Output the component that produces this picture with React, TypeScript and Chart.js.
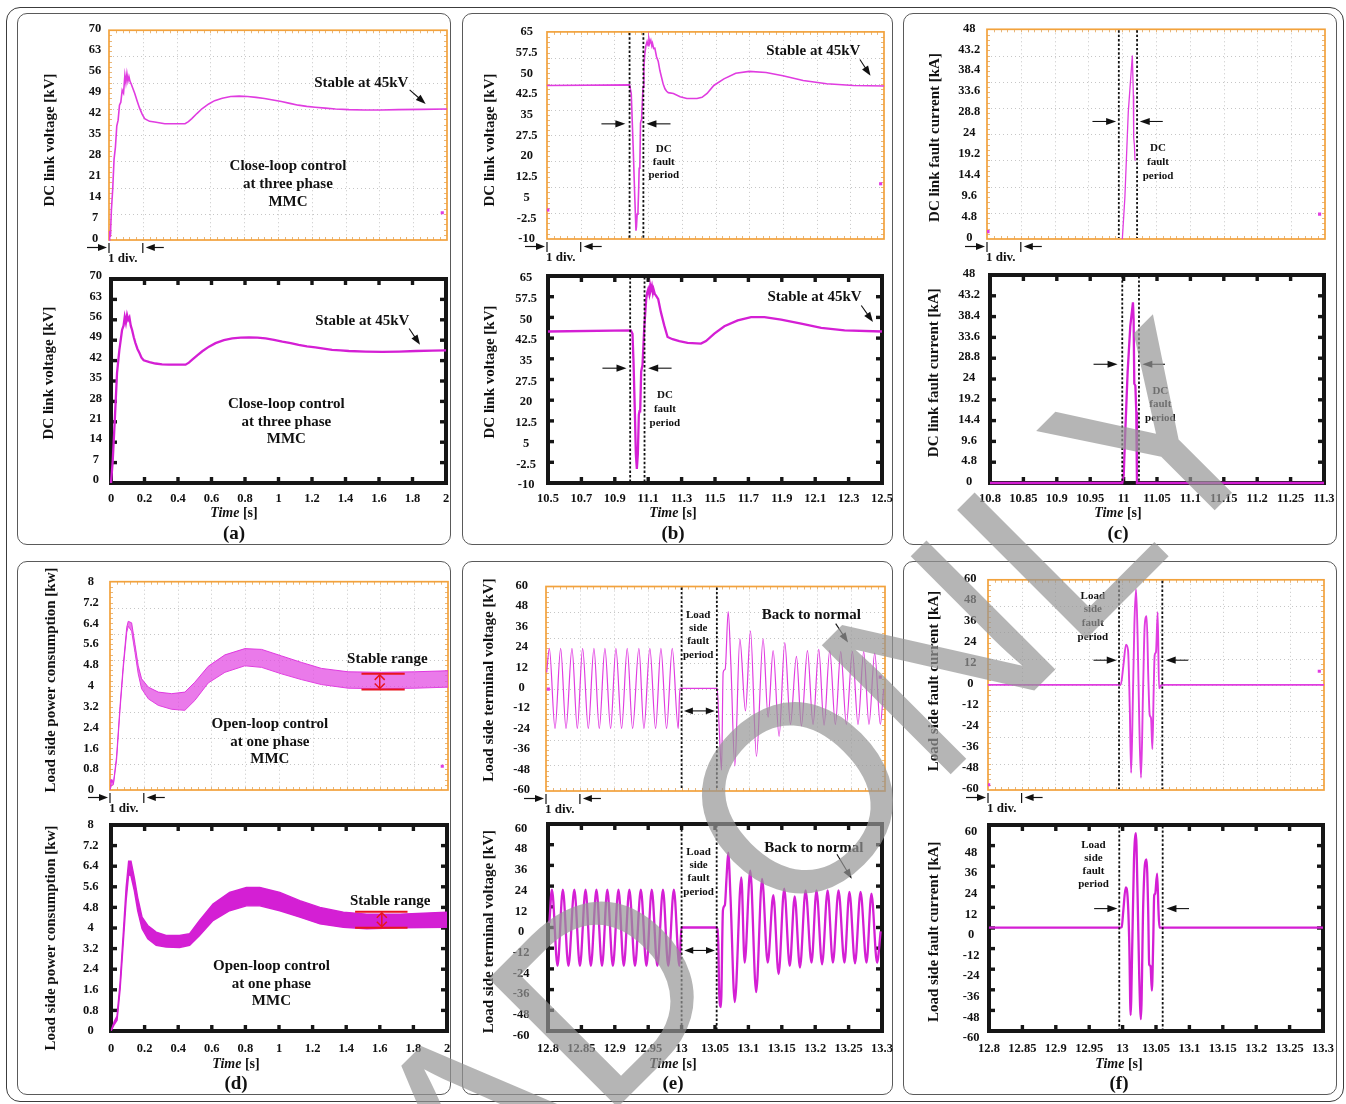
import React, { useEffect, useRef } from 'react';
import { Chart, registerables } from 'chart.js';

Chart.register(...registerables);

const SERIF = '"Liberation Serif", "Times New Roman", serif';
const SCOPE_C = '#e03ce0';
const SIM_C = '#d41fd4';
const ORANGE = '#f2a23c';
const RED = '#e8141e';

// ================= tick values =================
const aYTicks = [0, 7, 14, 21, 28, 35, 42, 49, 56, 63, 70];
const bYTicks = [-10, -2.5, 5, 12.5, 20, 27.5, 35, 42.5, 50, 57.5, 65];
const cYTicks = [0, 4.8, 9.6, 14.4, 19.2, 24, 28.8, 33.6, 38.4, 43.2, 48];
const dYTicks = [0, 0.8, 1.6, 2.4, 3.2, 4, 4.8, 5.6, 6.4, 7.2, 8];
const efYTicks = [-60, -48, -36, -24, -12, 0, 12, 24, 36, 48, 60];
const adXTicks = [0, 0.2, 0.4, 0.6, 0.8, 1, 1.2, 1.4, 1.6, 1.8, 2];
const bXTicks = [10.5, 10.7, 10.9, 11.1, 11.3, 11.5, 11.7, 11.9, 12.1, 12.3, 12.5];
const cXTicks = [10.8, 10.85, 10.9, 10.95, 11, 11.05, 11.1, 11.15, 11.2, 11.25, 11.3];
const efXTicks = [12.8, 12.85, 12.9, 12.95, 13, 13.05, 13.1, 13.15, 13.2, 13.25, 13.3];

// ================= (a) DC link voltage, start-up =================
const aTopTime = [0, 0.004, 0.008, 0.014, 0.022, 0.03, 0.038, 0.046, 0.054, 0.062, 0.07, 0.078, 0.086, 0.094, 0.1, 0.106, 0.112, 0.118, 0.124, 0.132, 0.142, 0.152, 0.166, 0.181, 0.196, 0.211, 0.24, 0.27, 0.33, 0.39, 0.45, 0.47, 0.49, 0.52, 0.55, 0.59, 0.625, 0.67, 0.72, 0.77, 0.82, 0.87, 0.92, 0.97, 1.02, 1.07, 1.12, 1.17, 1.22, 1.28, 1.34, 1.42, 1.51, 1.61, 1.71, 1.85, 2.0];
const aTopVolt = [0, 3, 1, 9.8, 17, 27, 31, 38, 40, 45, 46, 50, 49, 55, 52.5, 55.5, 53, 54.5, 53, 52, 50.5, 49, 46.5, 44, 42, 40.5, 39.6, 39.4, 38.8, 38.8, 38.8, 39.5, 40.5, 42.2, 43.8, 45.4, 46.5, 47.3, 47.9, 48, 47.9, 47.6, 47.2, 46.7, 46.2, 45.6, 45, 44.6, 44.3, 44, 43.7, 43.5, 43.4, 43.4, 43.5, 43.6, 43.7];
const aMarkTime = [0.004, 1.972];
const aMarkVal = [2.5, 9.1];
const aSimTime = [0, 0.01, 0.022, 0.036, 0.05, 0.066, 0.075, 0.082, 0.089, 0.096, 0.103, 0.11, 0.118, 0.126, 0.136, 0.146, 0.158, 0.17, 0.182, 0.195, 0.23, 0.265, 0.305, 0.345, 0.395, 0.445, 0.465, 0.485, 0.515, 0.545, 0.585, 0.624, 0.674, 0.724, 0.774, 0.824, 0.874, 0.923, 0.973, 1.023, 1.073, 1.12, 1.17, 1.22, 1.27, 1.32, 1.37, 1.42, 1.52, 1.62, 1.72, 1.82, 1.92, 2.0];
const aSimVolt = [0, 7.3, 20.9, 37.8, 45.7, 52.5, 54, 57, 55, 57.6, 56, 56.8, 54, 52.5, 50, 48, 46, 44.6, 43, 42.1, 41.5, 41, 40.7, 40.6, 40.6, 40.6, 41.3, 42.3, 43.8, 45.2, 46.8, 48, 49, 49.6, 49.9, 50, 49.9, 49.6, 49.1, 48.5, 48, 47.4, 46.9, 46.5, 46.1, 45.7, 45.5, 45.3, 45.1, 45.0, 45.1, 45.3, 45.4, 45.5];

// ================= (b) DC link voltage, DC fault =================
const bTopTime = [10.5, 10.99, 11.0, 11.011, 11.021, 11.028, 11.031, 11.035, 11.04, 11.044, 11.047, 11.051, 11.055, 11.059, 11.062, 11.066, 11.07, 11.075, 11.08, 11.087, 11.094, 11.1, 11.105, 11.11, 11.116, 11.122, 11.126, 11.133, 11.14, 11.15, 11.16, 11.17, 11.18, 11.19, 11.2, 11.21, 11.22, 11.25, 11.29, 11.33, 11.39, 11.42, 11.45, 11.49, 11.55, 11.62, 11.7, 11.8, 11.9, 12.02, 12.16, 12.32, 12.5];
const bTopVolt = [45.6, 45.8, 42.7, 23.9, 5, -7, -5.5, -1, 0.3, 8, 15.6, 16.5, 32, 33, 34.4, 40, 45, 52, 56.8, 60, 61.5, 60, 62.5, 61, 62, 60, 60.9, 59, 59.1, 56, 54.4, 51, 48.5, 46, 44.4, 43.5, 43, 42.7, 41.5, 40.9, 40.9, 41.3, 42.7, 45.6, 48, 50, 50.7, 50.3, 49.1, 47.4, 46.2, 45.6, 45.4];
const bMarkTime = [10.505, 12.48];
const bMarkVal = [0.5, 10];
const bSimTime = [10.5, 10.996, 11.006, 11.012, 11.02, 11.026, 11.032, 11.038, 11.044, 11.048, 11.052, 11.058, 11.066, 11.076, 11.088, 11.094, 11.1, 11.106, 11.112, 11.116, 11.122, 11.128, 11.132, 11.14, 11.146, 11.16, 11.176, 11.196, 11.216, 11.246, 11.286, 11.336, 11.416, 11.446, 11.496, 11.556, 11.636, 11.716, 11.796, 11.896, 12.016, 12.136, 12.276, 12.5];
const bSimVolt = [44.9, 45.3, 44.1, 34, 16, 0.5, -4.9, 0.5, 14.8, 16, 16, 30.4, 32.8, 45.9, 56.6, 59, 60.2, 58.5, 61.4, 60, 61.4, 59, 60.2, 58.4, 58, 56.6, 51.9, 47.1, 42.9, 42.1, 41.4, 40.8, 40.5, 41.4, 44.1, 46.8, 48.9, 50.1, 50.1, 49.2, 47.7, 46.2, 45.3, 44.9];

// ================= (c) DC link fault current =================
const cTopTime = [11.0002, 11.004, 11.009, 11.015, 11.0165, 11.017, 11.018, 11.019];
const cTopCur = [0, 9.6, 29.1, 42, 32.9, 23.1, 21.6, 17.9];
const cMarkTime = [10.8015, 11.292];
const cMarkVal = [1.7, 5.7];
const cSimTime = [10.8, 10.998, 11.0002, 11.0027, 11.006, 11.01, 11.014, 11.015, 11.016, 11.0176, 11.019, 11.02, 11.3];
const cSimCur = [0, 0, 1.9, 12.6, 25.5, 36.2, 41.7, 37.7, 22.9, 22.5, 16.4, 0, 0];

// ================= (d) load side power (ripple band: upper / lower envelope) =================
const dTopTime = [0, 0.01, 0.02, 0.039, 0.059, 0.079, 0.099, 0.108, 0.128, 0.148, 0.167, 0.187, 0.227, 0.286, 0.365, 0.443, 0.502, 0.581, 0.68, 0.798, 0.897, 1.015, 1.133, 1.251, 1.409, 1.606, 1.803, 2.0];
const dTopUpper = [0.09, 0.4, 0.25, 1.3, 3.2, 4.85, 6.25, 6.48, 6.42, 5.59, 4.77, 4.27, 3.95, 3.76, 3.7, 3.76, 4.14, 4.75, 5.19, 5.43, 5.4, 5.15, 4.9, 4.67, 4.54, 4.52, 4.54, 4.58];
const dTopLower = [0, 0.2, 0.2, 1.15, 3.05, 4.7, 6.05, 6.29, 6.1, 5.28, 4.46, 3.89, 3.5, 3.25, 3.1, 3.06, 3.44, 4.11, 4.52, 4.77, 4.71, 4.46, 4.24, 4.05, 3.91, 3.89, 3.91, 3.95];
const dMarkTime = [0.006, 1.966];
const dMarkVal = [0.34, 0.91];
const dSimTime = [0, 0.02, 0.036, 0.054, 0.074, 0.09, 0.105, 0.119, 0.139, 0.159, 0.185, 0.219, 0.269, 0.328, 0.408, 0.468, 0.527, 0.607, 0.706, 0.806, 0.886, 1.005, 1.124, 1.244, 1.383, 1.522, 1.721, 2.0];
const dSimUpper = [0, 0.38, 0.58, 1.86, 3.9, 5.57, 6.59, 6.59, 5.95, 5.18, 4.42, 4.1, 3.84, 3.71, 3.71, 3.78, 4.29, 4.93, 5.38, 5.57, 5.57, 5.38, 5.06, 4.8, 4.61, 4.54, 4.54, 4.61];
const dSimLower = [0, 0.26, 0.42, 1.6, 3.52, 5.06, 6.08, 6.02, 5.44, 4.67, 3.97, 3.58, 3.33, 3.26, 3.24, 3.33, 3.71, 4.29, 4.67, 4.86, 4.86, 4.67, 4.42, 4.16, 4.03, 3.97, 4.01, 4.03];

// ================= (e) load side terminal voltage (peaks / troughs) =================
const eTopTime = [12.801, 12.8049, 12.8133, 12.8216, 12.8295, 12.8383, 12.8462, 12.854, 12.8624, 12.8707, 12.8786, 12.8869, 12.8953, 12.9031, 12.9115, 12.9198, 12.9277, 12.937, 12.9444, 12.9532, 12.9616, 12.9695, 12.9778, 12.9862, 12.995, 12.9975, 13.0525, 13.0554, 13.0589, 13.0613, 13.0643, 13.0687, 13.0726, 13.0785, 13.0859, 13.0942, 13.1016, 13.1104, 13.1202, 13.1276, 13.135, 13.1438, 13.1522, 13.1605, 13.1694, 13.1767, 13.1856, 13.1939, 13.2023, 13.2101, 13.2185, 13.2268, 13.2347, 13.243, 13.2519, 13.2602, 13.2686, 13.2764, 13.2848, 13.2931, 13.298];
const eTopVolt = [9.6, 23.7, -23.3, 23.7, -23.3, 23.7, -23.3, 23.7, -23.3, 23.7, -23.3, 23.7, -23.3, 23.7, -23.3, 23.7, -23.3, 23.7, -23.3, 23.7, -23.3, 23.7, -23.3, 23.7, -23.3, 0.2, 0.2, -22.4, -47.8, 9.6, 11.5, 45.3, 15.2, -45.3, 29.3, -13, 34, -39.7, 29.3, -16.7, 22.4, -28, 27.1, -20.9, 19, -21.8, 22.4, -20.9, 23.1, -21.4, 22.4, -20.9, 21.8, -20.9, 21.8, -20.9, 21.8, -20.9, 20.9, -20.9, 0];
const eMarkTime = [12.8034, 13.293];
const eMarkVal = [-0.2, 6.8];
const eSimTime = [12.802, 12.8059, 12.8143, 12.8222, 12.8306, 12.8394, 12.8478, 12.8562, 12.8641, 12.8725, 12.8809, 12.8888, 12.8971, 12.9055, 12.9134, 12.9218, 12.9302, 12.939, 12.9474, 12.9553, 12.9637, 12.9721, 12.98, 12.9884, 12.9967, 12.9997, 13.0525, 13.0549, 13.0564, 13.0589, 13.0619, 13.0648, 13.0673, 13.0698, 13.0732, 13.0796, 13.0894, 13.0944, 13.1028, 13.1116, 13.1205, 13.1289, 13.1373, 13.1452, 13.1536, 13.1619, 13.1693, 13.1772, 13.1856, 13.1945, 13.2019, 13.2103, 13.2186, 13.2265, 13.2349, 13.2438, 13.2512, 13.2596, 13.2679, 13.2768, 13.2842, 13.2926, 13.298];
const eSimVolt = [2.5, 21.9, -22.3, 21.9, -22.3, 21.9, -22.3, 21.9, -22.3, 21.9, -22.3, 21.9, -22.3, 21.9, -22.3, 21.9, -22.3, 21.9, -22.3, 21.9, -22.3, 21.9, -22.3, 21.9, -22.3, 0, 0, -9, -39.4, -46.1, 10.1, 13, 29.1, 43.4, 17.7, -43.2, 29.1, -20.4, 33, -37.5, 28.2, -20.4, 18.7, -27, 22.5, -22.3, 18.1, -23.2, 21.5, -20.4, 21.5, -21.3, 21.5, -20.4, 21.5, -20.4, 20.6, -20.8, 20.6, -20.4, 19.6, -20.4, -2.3];

// ================= (f) load side fault current =================
const fTopTime = [12.8, 12.9975, 13.0015, 13.0054, 13.0084, 13.011, 13.013, 13.0153, 13.0178, 13.0203, 13.0228, 13.0252, 13.0277, 13.0307, 13.0332, 13.0361, 13.0386, 13.0406, 13.0426, 13.0446, 13.0465, 13.048, 13.05, 13.0525, 13.0545, 13.0584, 13.3];
const fTopCur = [0, 0, 11.2, 23, 19.7, -13.3, -50.2, -13.3, 33.9, 54.7, 24.5, -22.8, -53, -3.9, 33.9, 39.2, 3.7, -17.1, -19, -36.6, -3.9, 16.9, 18.8, 41.5, -2, 0, 0];
const fMarkTime = [12.801, 13.293];
const fMarkVal = [-57, 7.8];
const fSimTime = [12.8, 12.9961, 12.9986, 13.0011, 13.0046, 13.0075, 13.01, 13.012, 13.0145, 13.017, 13.0199, 13.0224, 13.0249, 13.0274, 13.0309, 13.0334, 13.0358, 13.0383, 13.0398, 13.0418, 13.0438, 13.0458, 13.0473, 13.0487, 13.0517, 13.0537, 13.0552, 13.3];
const fSimCur = [0.2, 0.2, 0.5, 10.3, 23.7, 18, -8.8, -50.8, -8.8, 39, 55.2, 19.9, -27.9, -53.1, 14.1, 37, 39.9, 10.3, -21.2, -22.2, -36.5, -8.8, 18.9, 19.9, 31.7, 10.3, 0.2, 0.2];

// ================= dataset helpers =================
const pts = (t: number[], v: number[]) => t.map((x, i) => ({ x, y: v[i] }));
const scopeLine = (t: number[], v: number[], smooth = false, w = 1.6) => ({
  data: pts(t, v), borderColor: SCOPE_C, borderWidth: w, pointRadius: 0, fill: false, tension: 0,
  cubicInterpolationMode: smooth ? 'monotone' : 'default', clip: 2,
});
const simLine = (t: number[], v: number[], smooth = false) => ({
  data: pts(t, v), borderColor: SIM_C, borderWidth: 2.3, pointRadius: 0, fill: false, tension: 0,
  cubicInterpolationMode: smooth ? 'monotone' : 'default', clip: 4,
});
const scopeMark = (t: number[], v: number[]) => ({
  data: pts(t, v), showLine: false, pointRadius: 2.2, pointStyle: 'rect', backgroundColor: SCOPE_C, borderWidth: 0,
});
const band = (t: number[], up: number[], lo: number[], color: string, fillColor: string, w: number) => [
  { data: pts(t, up), borderColor: color, borderWidth: w, pointRadius: 0, fill: '+1', backgroundColor: fillColor, tension: 0 },
  { data: pts(t, lo), borderColor: color, borderWidth: w, pointRadius: 0, fill: false, tension: 0 },
];

// ================= layout =================
const COLA = { l: 17, r: 451 }, COLB = { l: 462, r: 893 }, COLC = { l: 903, r: 1337 };
const ROW1 = { t: 13, b: 545 }, ROW2 = { t: 561, b: 1095 };
const geomTop = (col: any, row: any, area: any) => ({ cx: col.l + 2, cy: row.t + 2, cw: col.r - col.l - 4, ch: area.B + 30 - (row.t + 2), area });
const geomSim = (col: any, row: any, topB: number, area: any) => ({ cx: col.l + 2, cy: topB + 4, cw: area.R + 24 - (col.l + 2), ch: row.b + 4 - (topB + 4), area });

const dcText = (x: number, y: number, lh: number) => ({ k: 'tx', x, y, lines: ['DC', 'fault', 'period'], size: 11, lh });
const lsText = (x: number, y: number, lh: number) => ({ k: 'tx', x, y, lines: ['Load', 'side', 'fault', 'period'], size: 11, lh });

const SPECS: any[] = [
  // ---------- (a) ----------
  {
    kind: 'scope', ...geomTop(COLA, ROW1, { L: 109, T: 27, R: 447, B: 240 }),
    xMin: 0, xMax: 2, yMin: 0, yMax: 70, xTicks: adXTicks, yTicks: aYTicks, yPad: 7.75, yOff: -1,
    yTitle: { text: 'DC link voltage [kV]', x: 50, y: 140 },
    datasets: [scopeLine(aTopTime, aTopVolt), scopeMark(aMarkTime, aMarkVal)],
    ann: [
      { k: 'tx', x: 1.493, y: 52.5, lines: ['Stable at 45kV'], size: 15 },
      { k: 'ar', x1: 1.779, y1: 50.1, x2: 1.874, y2: 45.4 },
      { k: 'tx', x: 1.059, y: 24.6, lines: ['Close-loop control', 'at three phase', 'MMC'], size: 15, lh: 17.8 },
    ],
  },
  {
    kind: 'sim', ...geomSim(COLA, ROW1, 240, { L: 111, T: 279, R: 446, B: 483 }),
    xMin: 0, xMax: 2, yMin: 0, yMax: 70, xTicks: adXTicks, yTicks: aYTicks, yPad: 9, yOff: -3, xPad: 8,
    yTitle: { text: 'DC link voltage [kV]', x: 49.5, y: 373 },
    footer: { x: 234, timeY: 513.7, labelY: 533.7, label: '(a)' },
    datasets: [simLine(aSimTime, aSimVolt)],
    ann: [
      { k: 'tx', x: 1.5, y: 55.7, lines: ['Stable at 45kV'], size: 15 },
      { k: 'ar', x1: 1.78, y1: 53, x2: 1.845, y2: 47.4 },
      { k: 'tx', x: 1.047, y: 27.1, lines: ['Close-loop control', 'at three phase', 'MMC'], size: 15, lh: 17.8 },
    ],
  },
  // ---------- (b) ----------
  {
    kind: 'scope', ...geomTop(COLB, ROW1, { L: 547, T: 27, R: 884, B: 239 }),
    xMin: 10.5, xMax: 12.5, yMin: -10, yMax: 65, xTicks: bXTicks, yTicks: bYTicks, yPad: 9.4, yOff: 0,
    yTitle: { text: 'DC link voltage [kV]', x: 489.7, y: 140 },
    datasets: [scopeLine(bTopTime, bTopVolt), scopeMark(bMarkTime, bMarkVal)],
    ann: [
      { k: 'vd', x: 10.99 }, { k: 'vd', x: 11.072 },
      { k: 'ar', x1: 10.823, y1: 31.7, x2: 10.965, y2: 31.7 },
      { k: 'ar', x1: 11.233, y1: 31.7, x2: 11.09, y2: 31.7 },
      dcText(11.193, 22.7, 13.3),
      { k: 'tx', x: 12.08, y: 57.9, lines: ['Stable at 45kV'], size: 15 },
      { k: 'ar', x1: 12.357, y1: 55, x2: 12.42, y2: 49.1 },
    ],
  },
  {
    kind: 'sim', ...geomSim(COLB, ROW1, 239, { L: 548, T: 276, R: 882, B: 483 }),
    xMin: 10.5, xMax: 12.5, yMin: -10, yMax: 65, xTicks: bXTicks, yTicks: bYTicks, yPad: 11, yOff: 2, xPad: 8,
    yTitle: { text: 'DC link voltage [kV]', x: 489.7, y: 372 },
    footer: { x: 673, timeY: 513.7, labelY: 533.7, label: '(b)' },
    datasets: [simLine(bSimTime, bSimVolt)],
    ann: [
      { k: 'vd', x: 10.992 }, { k: 'vd', x: 11.078 },
      { k: 'ar', x1: 10.826, y1: 31.6, x2: 10.97, y2: 31.6 },
      { k: 'ar', x1: 11.24, y1: 31.6, x2: 11.1, y2: 31.6 },
      dcText(11.2, 22, 14),
      { k: 'tx', x: 12.096, y: 57.2, lines: ['Stable at 45kV'], size: 15 },
      { k: 'ar', x1: 12.376, y1: 54.3, x2: 12.446, y2: 48.3 },
    ],
  },
  // ---------- (c) ----------
  {
    kind: 'scope', ...geomTop(COLC, ROW1, { L: 987, T: 26, R: 1325, B: 239 }),
    xMin: 10.8, xMax: 11.3, yMin: 0, yMax: 48, xTicks: cXTicks, yTicks: cYTicks, yPad: 6.8, yOff: -1,
    yTitle: { text: 'DC link fault current [kA]', x: 935.3, y: 137.5 },
    datasets: [scopeLine(cTopTime, cTopCur, false, 1.3), scopeMark(cMarkTime, cMarkVal)],
    ann: [
      { k: 'vd', x: 10.995 }, { k: 'vd', x: 11.022 },
      { k: 'ar', x1: 10.956, y1: 26.9, x2: 10.991, y2: 26.9 },
      { k: 'ar', x1: 11.06, y1: 26.9, x2: 11.026, y2: 26.9 },
      dcText(11.053, 20.9, 14),
    ],
  },
  {
    kind: 'sim', ...geomSim(COLC, ROW1, 239, { L: 990, T: 275, R: 1324, B: 483 }),
    xMin: 10.8, xMax: 11.3, yMin: 0, yMax: 48, xTicks: cXTicks, yTicks: cYTicks, yPad: 10, yOff: -1, xPad: 8,
    yTitle: { text: 'DC link fault current [kA]', x: 934.5, y: 372.7 },
    footer: { x: 1118, timeY: 513.7, labelY: 533.7, label: '(c)' },
    datasets: [simLine(cSimTime, cSimCur)],
    ann: [
      { k: 'vd', x: 10.998 }, { k: 'vd', x: 11.023 },
      { k: 'ar', x1: 10.955, y1: 27.4, x2: 10.991, y2: 27.4 },
      { k: 'ar', x1: 11.062, y1: 27.4, x2: 11.028, y2: 27.4 },
      dcText(11.055, 21.3, 13.7),
    ],
  },
  // ---------- (d) ----------
  {
    kind: 'scope', ...geomTop(COLA, ROW2, { L: 110, T: 580, R: 448, B: 790 }),
    xMin: 0, xMax: 2, yMin: 0, yMax: 8, xTicks: adXTicks, yTicks: dYTicks, yPad: 11.2, yOff: 0,
    yTitle: { text: 'Load side power consumption [kw]', x: 50.7, y: 680 },
    datasets: [...band(dTopTime, dTopUpper, dTopLower, 'rgba(222,50,222,0.95)', 'rgba(226,70,226,0.72)', 1), scopeMark(dMarkTime, dMarkVal)],
    ann: [
      { k: 'tx', x: 1.641, y: 5.02, lines: ['Stable range'], size: 15 },
      { k: 'rr', x1: 1.488, x2: 1.744, y1: 4.46, y2: 3.86, xm: 1.596 },
      { k: 'tx', x: 0.946, y: 2.53, lines: ['Open-loop control', 'at one phase', 'MMC'], size: 15, lh: 17.7 },
    ],
  },
  {
    kind: 'sim', ...geomSim(COLA, ROW2, 790, { L: 111, T: 825, R: 447, B: 1031 }),
    xMin: 0, xMax: 2, yMin: 0, yMax: 8, xTicks: adXTicks, yTicks: dYTicks, yPad: 12.5, yOff: 0, xPad: 10.5,
    yTitle: { text: 'Load side power consumption [kw]', x: 50.7, y: 938 },
    footer: { x: 236, timeY: 1064, labelY: 1084, label: '(d)' },
    datasets: band(dSimTime, dSimUpper, dSimLower, SIM_C, SIM_C, 1.4),
    ann: [
      { k: 'tx', x: 1.662, y: 5.06, lines: ['Stable range'], size: 15 },
      { k: 'rr', x1: 1.453, x2: 1.765, y1: 4.63, y2: 4.01, xm: 1.612 },
      { k: 'tx', x: 0.955, y: 2.52, lines: ['Open-loop control', 'at one phase', 'MMC'], size: 15, lh: 17.7 },
    ],
  },
  // ---------- (e) ----------
  {
    kind: 'scope', ...geomTop(COLB, ROW2, { L: 546, T: 579, R: 885, B: 791 }),
    xMin: 12.8, xMax: 13.3, yMin: -60, yMax: 60, xTicks: efXTicks, yTicks: efYTicks, yPad: 16, yOff: -1,
    yTitle: { text: 'Load side terminal voltage [kV]', x: 489.3, y: 680 },
    datasets: [scopeLine(eTopTime, eTopVolt, true, 1.2), scopeMark(eMarkTime, eMarkVal)],
    ann: [
      { k: 'vd', x: 13.0 }, { k: 'vd', x: 13.052 },
      { k: 'dbl', x1: 13.0034, x2: 13.049, y: -13 },
      lsText(13.0245, 43.4, 13.3),
      { k: 'tx', x: 13.1915, y: 43.4, lines: ['Back to normal'], size: 15 },
      { k: 'ar', x1: 13.2273, y1: 38.2, x2: 13.2455, y2: 27.1 },
    ],
  },
  {
    kind: 'sim', ...geomSim(COLB, ROW2, 791, { L: 548, T: 824, R: 882, B: 1031 }),
    xMin: 12.8, xMax: 13.3, yMin: -60, yMax: 60, xTicks: efXTicks, yTicks: efYTicks, yPad: 18.6, yOff: 4.5, xPad: 10.5,
    yTitle: { text: 'Load side terminal voltage [kV]', x: 489.3, y: 931.7 },
    footer: { x: 673, timeY: 1064, labelY: 1084, label: '(e)' },
    datasets: [simLine(eSimTime, eSimVolt, true)],
    ann: [
      { k: 'vd', x: 13.0 }, { k: 'vd', x: 13.0525 },
      { k: 'dbl', x1: 13.004, x2: 13.05, y: -13.3 },
      lsText(13.0254, 43.8, 13.3),
      { k: 'tx', x: 13.198, y: 46.3, lines: ['Back to normal'], size: 15 },
      { k: 'ar', x1: 13.2325, y1: 42.5, x2: 13.2547, y2: 28.2 },
    ],
  },
  // ---------- (f) ----------
  {
    kind: 'scope', ...geomTop(COLC, ROW2, { L: 988, T: 579, R: 1324, B: 790 }),
    xMin: 12.8, xMax: 13.3, yMin: -60, yMax: 60, xTicks: efXTicks, yTicks: efYTicks, yPad: 9.3, yOff: -1,
    yTitle: { text: 'Load side fault current [kA]', x: 933.7, y: 681 },
    datasets: [scopeLine(fTopTime, fTopCur, true, 1.9), scopeMark(fMarkTime, fMarkVal)],
    ann: [
      { k: 'vd', x: 12.995 }, { k: 'vd', x: 13.0594 },
      { k: 'ar', x1: 12.957, y1: 14.1, x2: 12.9916, y2: 14.1 },
      { k: 'ar', x1: 13.098, y1: 14.1, x2: 13.0644, y2: 14.1 },
      lsText(12.956, 50.9, 13.8),
    ],
  },
  {
    kind: 'sim', ...geomSim(COLC, ROW2, 790, { L: 989, T: 825, R: 1323, B: 1031 }),
    xMin: 12.8, xMax: 13.3, yMin: -60, yMax: 60, xTicks: efXTicks, yTicks: efYTicks, yPad: 9.6, yOff: 7, xPad: 10.5,
    yTitle: { text: 'Load side fault current [kA]', x: 934, y: 931.7 },
    footer: { x: 1119, timeY: 1064, labelY: 1084, label: '(f)' },
    datasets: [simLine(fSimTime, fSimCur, true)],
    ann: [
      { k: 'vd', x: 12.995 }, { k: 'vd', x: 13.06 },
      { k: 'ar', x1: 12.9574, y1: 11.3, x2: 12.9922, y2: 11.3 },
      { k: 'ar', x1: 13.0994, y1: 11.3, x2: 13.0656, y2: 11.3 },
      lsText(12.9564, 48.5, 13.3),
    ],
  },
];

// ================= drawing helpers =================
const fontOf = (size: number, italic = false) => `${italic ? 'italic ' : ''}bold ${size}px ${SERIF}`;

function head(ctx: CanvasRenderingContext2D, x1: number, y1: number, x2: number, y2: number, len = 9, half = 3.5) {
  const a = Math.atan2(y2 - y1, x2 - x1);
  const c = Math.cos(a), s = Math.sin(a);
  ctx.beginPath();
  ctx.moveTo(x2, y2);
  ctx.lineTo(x2 - len * c + half * s, y2 - len * s - half * c);
  ctx.lineTo(x2 - len * c - half * s, y2 - len * s + half * c);
  ctx.closePath();
  ctx.fill();
}

function seg(ctx: CanvasRenderingContext2D, x1: number, y1: number, x2: number, y2: number) {
  ctx.beginPath(); ctx.moveTo(x1, y1); ctx.lineTo(x2, y2); ctx.stroke();
}

function drawAnn(chart: any, a: any) {
  const ctx: CanvasRenderingContext2D = chart.ctx;
  const X = (v: number) => chart.scales.x.getPixelForValue(v);
  const Y = (v: number) => chart.scales.y.getPixelForValue(v);
  const { top, bottom } = chart.chartArea;
  ctx.save();
  ctx.strokeStyle = '#111'; ctx.fillStyle = '#111';
  if (a.k === 'vd') {
    ctx.lineWidth = 1.8; ctx.setLineDash([2.4, 2]);
    const x = X(a.x);
    seg(ctx, x, top + 1, x, bottom - 1);
  } else if (a.k === 'ar') {
    ctx.lineWidth = 1.1;
    const x1 = X(a.x1), y1 = Y(a.y1), x2 = X(a.x2), y2 = Y(a.y2);
    const ang = Math.atan2(y2 - y1, x2 - x1);
    seg(ctx, x1, y1, x2 - 6 * Math.cos(ang), y2 - 6 * Math.sin(ang));
    head(ctx, x1, y1, x2, y2, 10, 3.6);
  } else if (a.k === 'dbl') {
    ctx.lineWidth = 1.1;
    const x1 = X(a.x1), x2 = X(a.x2), y = Y(a.y);
    seg(ctx, x1 + 5, y, x2 - 5, y);
    head(ctx, x2, y, x1, y, 9, 3.4);
    head(ctx, x1, y, x2, y, 9, 3.4);
  } else if (a.k === 'tx') {
    ctx.font = fontOf(a.size); ctx.textAlign = 'center'; ctx.textBaseline = 'middle';
    const x = X(a.x), y = Y(a.y);
    a.lines.forEach((t: string, i: number) => ctx.fillText(t, x, y + i * (a.lh || 0)));
  } else if (a.k === 'rr') {
    ctx.strokeStyle = RED; ctx.lineWidth = 2;
    const x1 = X(a.x1), x2 = X(a.x2), y1 = Y(a.y1), y2 = Y(a.y2), xm = X(a.xm);
    seg(ctx, x1, y1, x2, y1);
    seg(ctx, x1, y2, x2, y2);
    ctx.lineWidth = 1.5;
    seg(ctx, xm, y1 + 1, xm, y2 - 1);
    ctx.beginPath();
    ctx.moveTo(xm - 5, y1 + 6); ctx.lineTo(xm, y1 + 1); ctx.lineTo(xm + 5, y1 + 6);
    ctx.moveTo(xm - 5, y2 - 6); ctx.lineTo(xm, y2 - 1); ctx.lineTo(xm + 5, y2 - 6);
    ctx.stroke();
  }
  ctx.restore();
}

function makeDeco(s: any) {
  return {
    id: 'deco',
    beforeDatasetsDraw(chart: any) {
      const ctx: CanvasRenderingContext2D = chart.ctx;
      const { left, top, right, bottom } = chart.chartArea;
      const w = right - left, h = bottom - top;
      ctx.save();
      if (s.kind === 'scope') {
        ctx.strokeStyle = '#c6c6c6'; ctx.lineWidth = 1; ctx.setLineDash([1, 3]);
        ctx.beginPath();
        for (let i = 1; i < 10; i++) { const x = Math.round(left + (w * i) / 10) + 0.5; ctx.moveTo(x, top); ctx.lineTo(x, bottom); }
        for (let i = 1; i < 8; i++) { const y = Math.round(top + (h * i) / 8) + 0.5; ctx.moveTo(left, y); ctx.lineTo(right, y); }
        ctx.stroke();
        ctx.setLineDash([]);
        ctx.strokeStyle = '#e9b77a'; ctx.lineWidth = 1;
        ctx.beginPath();
        for (let i = 1; i < 50; i++) {
          const x = Math.round(left + (w * i) / 50) + 0.5;
          ctx.moveTo(x, bottom); ctx.lineTo(x, bottom - 3); ctx.moveTo(x, top); ctx.lineTo(x, top + 3);
        }
        for (let i = 1; i < 40; i++) {
          const y = Math.round(top + (h * i) / 40) + 0.5;
          ctx.moveTo(left, y); ctx.lineTo(left + 3, y); ctx.moveTo(right, y); ctx.lineTo(right - 3, y);
        }
        ctx.stroke();
        ctx.strokeStyle = ORANGE; ctx.lineWidth = 1.7;
        ctx.strokeRect(left, top, w, h);
      } else {
        ctx.strokeStyle = '#161616'; ctx.lineWidth = 4;
        ctx.strokeRect(left, top, w, h);
        ctx.fillStyle = '#161616';
        const xs = chart.scales.x, ys = chart.scales.y;
        xs.ticks.forEach((t: any) => {
          const x = xs.getPixelForValue(t.value);
          if (x < left + 5 || x > right - 5) return;
          ctx.fillRect(x - 1.7, top + 2, 3.4, 4);
          ctx.fillRect(x - 1.7, bottom - 6, 3.4, 4);
        });
        ys.ticks.forEach((t: any) => {
          const y = ys.getPixelForValue(t.value);
          if (y < top + 5 || y > bottom - 5) return;
          ctx.fillRect(left + 2, y - 1.7, 4, 3.4);
          ctx.fillRect(right - 6, y - 1.7, 4, 3.4);
        });
      }
      ctx.restore();
    },
    afterDatasetsDraw(chart: any) {
      s.ann.forEach((a: any) => drawAnn(chart, a));
    },
    afterDraw(chart: any) {
      const ctx: CanvasRenderingContext2D = chart.ctx;
      const { left, bottom, right } = chart.chartArea;
      ctx.save();
      ctx.fillStyle = '#111'; ctx.strokeStyle = '#111';
      ctx.save();
      ctx.translate(s.yTitle.x - s.cx, s.yTitle.y - s.cy);
      ctx.rotate(-Math.PI / 2);
      ctx.font = fontOf(15); ctx.textAlign = 'center'; ctx.textBaseline = 'middle';
      ctx.fillText(s.yTitle.text, 0, 0);
      ctx.restore();
      if (s.kind === 'scope') {
        const d = (right - left) / 10;
        const ya = bottom + 7.5;
        ctx.lineWidth = 1.2;
        seg(ctx, left, bottom + 3, left, bottom + 13);
        seg(ctx, left + d, bottom + 3, left + d, bottom + 13);
        seg(ctx, left - 22, ya, left - 6, ya);
        head(ctx, left - 22, ya, left - 2, ya, 9, 3.4);
        seg(ctx, left + d + 21, ya, left + d + 7, ya);
        head(ctx, left + d + 21, ya, left + d + 3, ya, 9, 3.4);
        ctx.font = fontOf(13); ctx.textAlign = 'left'; ctx.textBaseline = 'middle';
        ctx.fillText('1 div.', left - 1, bottom + 18.5);
      }
      if (s.footer) {
        const fx = s.footer.x - s.cx;
        const ty = s.footer.timeY - s.cy;
        ctx.textBaseline = 'middle'; ctx.textAlign = 'left';
        ctx.font = fontOf(14, true); const w1 = ctx.measureText('Time').width;
        ctx.font = fontOf(14); const w2 = ctx.measureText(' [s]').width;
        const x0 = fx - (w1 + w2) / 2;
        ctx.font = fontOf(14, true); ctx.fillText('Time', x0, ty);
        ctx.font = fontOf(14); ctx.fillText(' [s]', x0 + w1, ty);
        ctx.font = fontOf(19); ctx.textAlign = 'center';
        ctx.fillText(s.footer.label, fx, s.footer.labelY - s.cy);
      }
      ctx.restore();
    },
  };
}

function buildConfig(s: any) {
  const Wy = 50;
  const Hx = s.kind === 'sim' ? 22 : 0;
  const L = s.area.L - s.cx, T = s.area.T - s.cy, R = s.area.R - s.cx, B = s.area.B - s.cy;
  const tickFont = { family: SERIF, size: 12.5, weight: 'bold' as const };
  return {
    type: 'line' as const,
    data: { datasets: s.datasets },
    options: {
      animation: false as const,
      responsive: false,
      events: [],
      layout: { autoPadding: false, padding: { left: L - Wy, top: T, right: s.cw - R, bottom: s.ch - B - Hx } },
      plugins: { legend: { display: false }, tooltip: { enabled: false }, title: { display: false } },
      scales: {
        x: {
          type: 'linear' as const, min: s.xMin, max: s.xMax, display: s.kind === 'sim',
          afterBuildTicks: (ax: any) => { ax.ticks = s.xTicks.map((v: number) => ({ value: v })); },
          afterFit: (ax: any) => { ax.height = Hx; },
          grid: { display: false, drawTicks: false },
          border: { display: false },
          ticks: {
            autoSkip: false, maxRotation: 0, minRotation: 0, padding: s.xPad ?? 8, color: '#111', font: tickFont,
            callback: (_v: any, i: number) => String(s.xTicks[i]),
          },
        },
        y: {
          type: 'linear' as const, min: s.yMin, max: s.yMax,
          afterBuildTicks: (ax: any) => { ax.ticks = s.yTicks.map((v: number) => ({ value: v })); },
          afterFit: (ax: any) => { ax.width = Wy; },
          grid: { display: false, drawTicks: false },
          border: { display: false },
          ticks: {
            autoSkip: false, crossAlign: 'center' as const, padding: s.yPad, labelOffset: s.yOff || 0, color: '#111', font: tickFont,
            callback: (_v: any, i: number) => String(s.yTicks[i]),
          },
        },
      },
    },
    plugins: [makeDeco(s)],
  };
}

function ChartCanvas({ spec }: { spec: any }) {
  const ref = useRef<HTMLCanvasElement>(null);
  useEffect(() => {
    if (!ref.current) return;
    const chart = new Chart(ref.current, buildConfig(spec) as any);
    return () => chart.destroy();
  }, [spec]);
  return (
    <canvas
      ref={ref}
      width={spec.cw}
      height={spec.ch}
      style={{ position: 'absolute', left: spec.cx, top: spec.cy, width: spec.cw, height: spec.ch }}
    />
  );
}

// watermark overlay
const WM = { text: 'READ ONLY', prefix: 'READ ', cx: 795, cy: 795, angle: -45, size: 265 };

function Watermark() {
  const ref = useRef<HTMLCanvasElement>(null);
  useEffect(() => {
    const c = ref.current;
    if (!c) return;
    const ctx = c.getContext('2d')!;
    ctx.clearRect(0, 0, c.width, c.height);
    ctx.save();
    ctx.fillStyle = 'rgba(150,150,150,0.7)';
    ctx.font = `${WM.size}px "Liberation Sans", Arial, sans-serif`;
    ctx.translate(WM.cx, WM.cy);
    ctx.rotate((WM.angle * Math.PI) / 180);
    const pre = ctx.measureText(WM.prefix).width;
    const ow = ctx.measureText('O').width;
    ctx.textBaseline = 'alphabetic';
    ctx.fillText(WM.text, -(pre + ow / 2), 0.36 * WM.size);
    ctx.restore();
  }, []);
  return <canvas ref={ref} width={1346} height={1104} style={{ position: 'absolute', left: 0, top: 0, pointerEvents: 'none' }} />;
}

const PANELS = [
  [COLA, ROW1], [COLB, ROW1], [COLC, ROW1],
  [COLA, ROW2], [COLB, ROW2], [COLC, ROW2],
];

export default function App() {
  return (
    <div style={{ position: 'absolute', left: 0, top: 0, width: 1346, height: 1104, overflow: 'hidden', background: '#fff' }}>
      <div style={{ position: 'absolute', left: 6, top: 7, width: 1338, height: 1095, border: '1.5px solid #3c3c3c', borderRadius: 14, boxSizing: 'border-box' }} />
      {PANELS.map(([c, r]: any, i) => (
        <div
          key={i}
          style={{ position: 'absolute', left: c.l, top: r.t, width: c.r - c.l, height: r.b - r.t, border: '1.5px solid #5a5a5a', borderRadius: 10, boxSizing: 'border-box' }}
        />
      ))}
      {SPECS.map((s, i) => (
        <ChartCanvas key={i} spec={s} />
      ))}
      <Watermark />
    </div>
  );
}
